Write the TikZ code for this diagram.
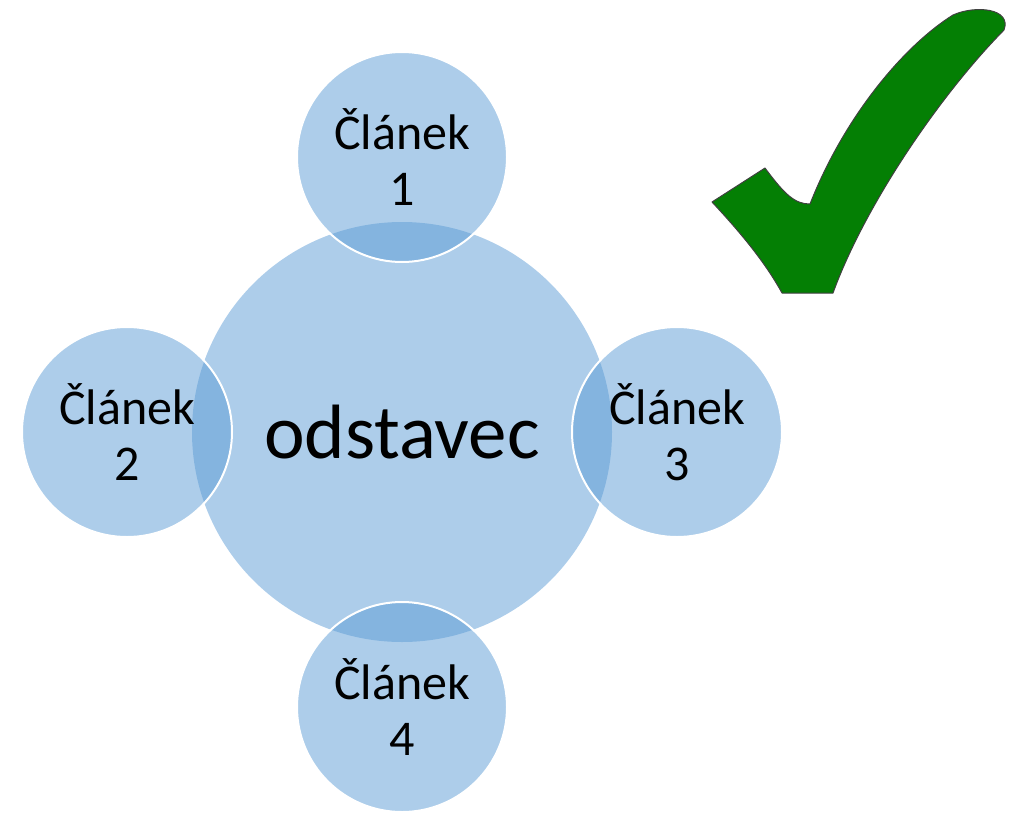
\documentclass[tikz,border=0pt]{standalone}
\usepackage{fontspec}
\setmainfont{Carlito}
\usetikzlibrary{math}

\definecolor{modra}{HTML}{5B9BD5}
\definecolor{zelena}{HTML}{047F04}

\tikzset{
	kruh/.style={circle,inner sep=0pt,fill=modra,fill opacity=0.5,text opacity=1,text=black},
	odstkruh/.style={kruh,draw=none,font=\fontsize{77}{80}\selectfont},
	clanek/.style={kruh,draw=white,line width=2pt,align=center,font=\fontsize{50}{56}\selectfont},
	fajfka/.style={fill=zelena,draw=black!75,line width=1pt,line join=round}
}

\begin{document}
\begin{tikzpicture}[x=1pt,y=-1pt]

	\tikzmath{\cx = 402; \cy = 432;
			  \d = 275;
			  \R = 210; \r = 105;
	        }
	\useasboundingbox (0,0) rectangle (1030,814);

	% stredni kruh
	\node[odstkruh,minimum size=2*\R] (odst) at (\cx,\cy) {odstavec};

	% clanky kolem
	\node[clanek,minimum size=2*\r] (cl1) at (\cx,\cy-\d) {Článek\\1};
	\node[clanek,minimum size=2*\r] (cl2) at (\cx-\d,\cy) {Článek\\2};
	\node[clanek,minimum size=2*\r] (cl3) at (\cx+\d,\cy) {Článek\\3};
	\node[clanek,minimum size=2*\r] (cl4) at (\cx,\cy+\d) {Článek\\4};

	% fajfka
	\draw[fajfka] (712,202) -- (765,168)
		.. controls (785,195) and (795,204) .. (810,204)
		.. controls (845,115) and (905,45) .. (953,15)
		.. controls (975,5) and (1012,8) .. (1004,30)
		.. controls (940,95) and (865,205) .. (833,293)
		-- (782,293)
		.. controls (765,262) and (740,232) .. cycle;
\end{tikzpicture}
\end{document}
